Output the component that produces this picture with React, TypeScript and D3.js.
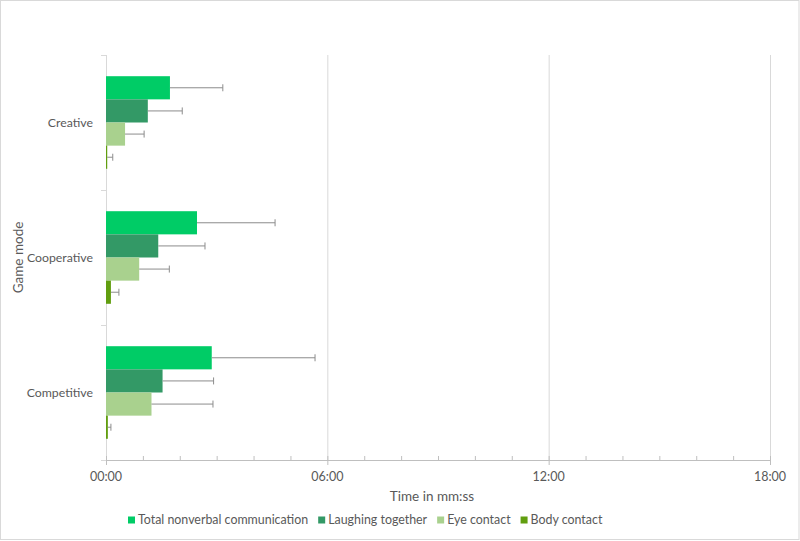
import * as d3 from "d3";
import { useEffect, useRef } from "react";

// values in seconds
const categories = ["Creative", "Cooperative", "Competitive"];
const seriesNames = [
  "Total nonverbal communication",
  "Laughing together",
  "Eye contact",
  "Body contact",
];
const seriesColors = ["#00cc66", "#339966", "#a9d18e", "#619e0f"];

// per category, in series order
const totalValues = [104, 148, 172];
const laughingValues = [68, 85, 92];
const eyeValues = [31, 54, 74];
const bodyValues = [2, 8, 3];

const totalErrors = [86, 127, 168];
const laughingErrors = [56, 76, 83];
const eyeErrors = [31, 49, 100];
const bodyErrors = [9, 13, 5];

const majorTicks = [0, 360, 720, 1080];
const minorTicks = d3.range(0, 1081, 60);

const W = 800;
const H = 541;

const fmt = (s: number) => {
  const m = Math.floor(s / 60);
  const sec = s % 60;
  return `${String(m).padStart(2, "0")}:${String(sec).padStart(2, "0")}`;
};

const App = () => {
  const svgRef = useRef<SVGSVGElement>(null);

  useEffect(() => {
    const svg = d3.select(svgRef.current);
    svg.selectAll("*").remove();

    const font = "Lato, 'Open Sans', sans-serif";
    const textColor = "#595959";
    const left = 106;
    const right = 770;
    const top = 55;
    const bottom = 460;

    const x = d3.scaleLinear().domain([0, 1080]).range([left, right]);
    const y0 = d3.scaleBand().domain(categories).range([top, bottom]);
    const y1 = d3
      .scaleBand()
      .domain(seriesNames)
      .range([0, y0.bandwidth()])
      .paddingInner(0)
      .paddingOuter(0.916);

    const values = [totalValues, laughingValues, eyeValues, bodyValues];
    const errors = [totalErrors, laughingErrors, eyeErrors, bodyErrors];

    // chart border
    svg
      .append("rect")
      .attr("x", 0.5)
      .attr("y", 0.5)
      .attr("width", W - 1.5)
      .attr("height", H - 2)
      .attr("fill", "#fff")
      .attr("stroke", "#d9d9d9");

    // gridlines
    svg
      .append("g")
      .selectAll("line")
      .data(majorTicks.slice(1))
      .enter()
      .append("line")
      .attr("x1", (d) => x(d) + 0.5)
      .attr("x2", (d) => x(d) + 0.5)
      .attr("y1", top)
      .attr("y2", bottom)
      .attr("stroke", "#d9d9d9");

    // left axis
    const yAxis = svg.append("g").attr("stroke", "#d9d9d9");
    yAxis
      .append("line")
      .attr("x1", left + 0.5)
      .attr("x2", left + 0.5)
      .attr("y1", top)
      .attr("y2", bottom);
    const bounds = categories.map((c) => y0(c) || 0).concat([bottom]);
    yAxis
      .selectAll(".ytick")
      .data(bounds)
      .enter()
      .append("line")
      .attr("x1", left - 5)
      .attr("x2", left)
      .attr("y1", (d) => d + 0.5)
      .attr("y2", (d) => d + 0.5);

    // bars
    categories.forEach((cat, ci) => {
      const g = svg.append("g").attr("transform", `translate(0,${y0(cat)})`);
      seriesNames.forEach((s, si) => {
        const v = values[si][ci];
        const e = errors[si][ci];
        const yy = y1(s) || 0;
        const bh = y1.bandwidth();
        g.append("rect")
          .attr("x", x(0))
          .attr("y", yy)
          .attr("width", x(v) - x(0))
          .attr("height", bh)
          .attr("fill", seriesColors[si]);
        const cy = yy + bh / 2;
        g.append("line")
          .attr("x1", x(v))
          .attr("x2", x(v + e))
          .attr("y1", cy)
          .attr("y2", cy)
          .attr("stroke", "#8c8c8c")
          .attr("stroke-width", 1);
        g.append("line")
          .attr("x1", x(v + e))
          .attr("x2", x(v + e))
          .attr("y1", cy - 3.5)
          .attr("y2", cy + 3.5)
          .attr("stroke", "#8c8c8c")
          .attr("stroke-width", 1);
      });
    });

    // bottom axis
    const xAxis = svg.append("g").attr("stroke", "#bfbfbf");
    xAxis
      .append("line")
      .attr("x1", left)
      .attr("x2", right + 1)
      .attr("y1", bottom + 0.5)
      .attr("y2", bottom + 0.5);
    xAxis
      .selectAll(".minor")
      .data(minorTicks.filter((t) => t % 360 !== 0))
      .enter()
      .append("line")
      .attr("x1", (d) => x(d) + 0.5)
      .attr("x2", (d) => x(d) + 0.5)
      .attr("y1", bottom - 4)
      .attr("y2", bottom);
    xAxis
      .selectAll(".major")
      .data(majorTicks)
      .enter()
      .append("line")
      .attr("x1", (d) => x(d) + 0.5)
      .attr("x2", (d) => x(d) + 0.5)
      .attr("y1", bottom - 4)
      .attr("y2", bottom + 5);

    svg
      .append("g")
      .selectAll("text")
      .data(majorTicks)
      .enter()
      .append("text")
      .attr("x", (d) => x(d))
      .attr("y", 477)
      .attr("dy", "0.35em")
      .attr("text-anchor", "middle")
      .style("font-family", font)
      .style("font-size", "12.5px")
      .style("fill", textColor)
      .text((d) => fmt(d));

    // category labels
    svg
      .append("g")
      .selectAll("text")
      .data(categories)
      .enter()
      .append("text")
      .attr("x", 93)
      .attr("y", (d) => (y0(d) || 0) + y0.bandwidth() / 2)
      .attr("dy", "0.35em")
      .attr("text-anchor", "end")
      .style("font-family", font)
      .style("font-size", "12.3px")
      .style("fill", textColor)
      .text((d) => d);

    // axis titles
    svg
      .append("text")
      .attr("x", 432)
      .attr("y", 496)
      .attr("dy", "0.35em")
      .attr("text-anchor", "middle")
      .style("font-family", font)
      .style("font-size", "13.5px")
      .style("fill", textColor)
      .text("Time in mm:ss");

    svg
      .append("text")
      .attr("transform", `translate(18,${(top + bottom) / 2}) rotate(-90)`)
      .attr("dy", "0.35em")
      .attr("text-anchor", "middle")
      .style("font-family", font)
      .style("font-size", "13.5px")
      .style("fill", textColor)
      .text("Game mode");

    // legend
    const legend = svg.append("g");
    let lx = 128;
    seriesNames.forEach((s, i) => {
      legend
        .append("rect")
        .attr("x", lx)
        .attr("y", 516.5)
        .attr("width", 7)
        .attr("height", 7)
        .attr("fill", seriesColors[i]);
      const t = legend
        .append("text")
        .attr("x", lx + 10)
        .attr("y", 520)
        .attr("dy", "0.35em")
        .style("font-family", font)
        .style("font-size", "12.4px")
        .style("fill", textColor)
        .text(s);
      const w = (t.node() as SVGTextElement).getComputedTextLength();
      lx += 10 + w + 10;
    });
  }, []);

  return (
    <svg
      ref={svgRef}
      width={W}
      height={H}
      style={{ position: "absolute", left: 0, top: 0, display: "block" }}
    ></svg>
  );
};

export default App;
